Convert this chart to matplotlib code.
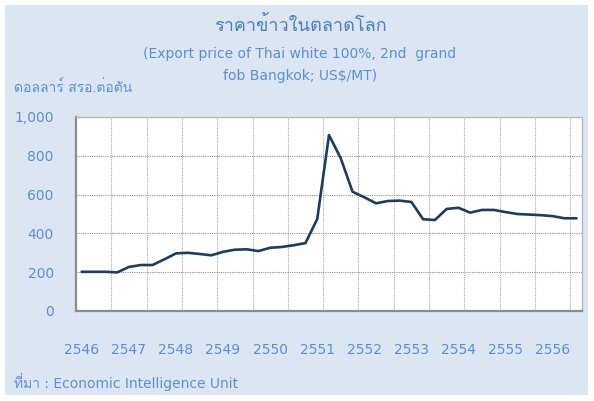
import numpy as np
import matplotlib
matplotlib.use("Agg")
import matplotlib.pyplot as plt
from matplotlib.patches import Rectangle
from matplotlib import font_manager
from matplotlib.ft2font import FT2Font

# ราคาข้าวรายไตรมาส (US$/MT) อ่านค่าจากกราฟ
prices = [202, 202, 202, 199, 227, 237, 237, 266, 297, 300,
          294, 287, 305, 316, 318, 309, 326, 330, 339, 350,
          474, 907, 787, 615, 586, 555, 567, 569, 562, 473,
          469, 526, 532, 507, 521, 521, 510, 500, 497, 494,
          489, 478, 478]
years = ["2546", "2547", "2548", "2549", "2550", "2551",
         "2552", "2553", "2554", "2555", "2556"]
y_ticks = [0, 200, 400, 600, 800, 1000]

title = "ราคาข้าวในตลาดโลก"
subtitle = "(Export price of Thai white 100%, 2nd  grand\nfob Bangkok; US$/MT)"
unit_label = "ดอลลาร์ สรอ.ต่อตัน"
source = "ที่มา : Economic Intelligence Unit"

W, H = 594, 401
TXT = "#5b8ed6"
TITLE_C = "#4a7dc0"


def thai_family():
    # หาฟอนต์ที่มีอักษรไทย
    for f in font_manager.fontManager.ttflist:
        try:
            if ord("ร") in FT2Font(f.fname).get_charmap():
                return f.name
        except Exception:
            pass
    return "DejaVu Sans"


THAI = [thai_family(), "DejaVu Sans"]
MIXED = ["DejaVu Sans", THAI[0]]

fig = plt.figure(figsize=(W / 100, H / 100), dpi=100)
fig.patch.set_facecolor("white")
fig.add_artist(Rectangle((5 / W, 1 - 395 / H), 583 / W, 390 / H,
                         transform=fig.transFigure, facecolor="#dce6f2",
                         edgecolor="none", zorder=0))

ax = fig.add_axes([76 / W, 1 - 311 / H, 506 / W, 194 / H])
ax.set_facecolor("white")

x = np.arange(len(prices))
ax.plot(x, prices, color="#1f3b63", linewidth=1.9, solid_joinstyle="round", zorder=3)

ax.set_xlim(-0.5, len(prices) - 0.5)
ax.set_ylim(0, 1000)
ax.set_yticks(y_ticks)
ax.set_yticklabels([f"{v:,}" for v in y_ticks])
ax.set_xticks(np.arange(2.5, len(prices) - 0.5, 3))
ax.set_xticklabels([])
ax.tick_params(axis="y", length=0, pad=16, labelsize=10, labelcolor=TXT)
ax.tick_params(axis="x", length=0)
ax.grid(True, axis="y", color="#909090", linestyle=(0, (1, 1)), linewidth=0.8, zorder=1)
ax.grid(True, axis="x", color="#a8a8a8", linestyle=(0, (1, 1)), linewidth=0.8, zorder=1)

for side in ["left", "bottom"]:
    ax.spines[side].set_color("#8c8c8c")
    ax.spines[side].set_linewidth(1.6)
for side in ["top", "right"]:
    ax.spines[side].set_color("#b4b4b4")
    ax.spines[side].set_linewidth(0.9)

fig.text(300 / W, 1 - 25 / H, title, ha="center", va="center",
         fontsize=13, color=TITLE_C, family=THAI)
fig.text(300 / W, 1 - 65 / H, subtitle, ha="center", va="center",
         fontsize=10, color=TXT, linespacing=1.75)
fig.text(14 / W, 1 - 88 / H, unit_label, ha="left", va="center",
         fontsize=10, color=TXT, family=THAI)

for i, yr in enumerate(years):
    fig.text((81.5 + 47.15 * i) / W, 1 - 350 / H, yr, ha="center", va="center",
             fontsize=10, color=TXT)

fig.text(14 / W, 1 - 382 / H, source, ha="left", va="center",
         fontsize=10, color=TXT, family=MIXED)

fig.savefig("out.png", dpi=100)
